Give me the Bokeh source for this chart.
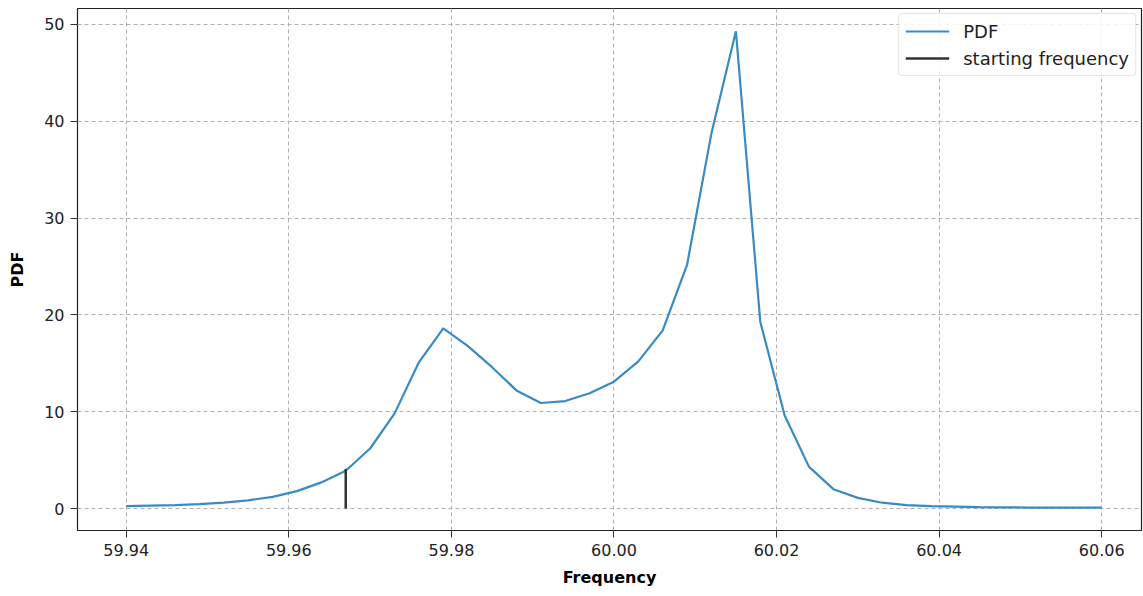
from bokeh.plotting import figure
from bokeh.embed import file_html
from bokeh.resources import INLINE
from bokeh.models import Range1d, FixedTicker, Legend, LegendItem, CustomJSTickFormatter

freq = [59.940, 59.943, 59.946, 59.949, 59.952, 59.955, 59.958, 59.961, 59.964, 59.967,
        59.970, 59.973, 59.976, 59.979, 59.982, 59.985, 59.988, 59.991, 59.994, 59.997,
        60.000, 60.003, 60.006, 60.009, 60.012, 60.015, 60.018, 60.021, 60.024, 60.027,
        60.030, 60.033, 60.036, 60.039, 60.042, 60.045, 60.048, 60.051, 60.054, 60.057, 60.060]
pdf = [0.25, 0.3, 0.35, 0.45, 0.6, 0.85, 1.2, 1.8, 2.7, 3.9,
       6.2, 9.8, 15.1, 18.6, 16.8, 14.6, 12.2, 10.9, 11.1, 11.9,
       13.1, 15.2, 18.4, 25.2, 38.8, 49.3, 19.3, 9.6, 4.3, 2.0,
       1.1, 0.6, 0.35, 0.25, 0.2, 0.15, 0.12, 0.1, 0.1, 0.1, 0.1]
start_freq = [59.967, 59.967]
start_pdf = [0.0, 4.1]
x_ticks = [59.94, 59.96, 59.98, 60.00, 60.02, 60.04, 60.06]
y_ticks = [0, 10, 20, 30, 40, 50]

p = figure(width=1143, height=596, output_backend="svg", toolbar_location=None,
           x_range=Range1d(59.934, 60.0649), y_range=Range1d(-2.27, 51.65),
           min_border_left=77, min_border_top=8, min_border_bottom=66, min_border_right=2)

l1 = p.line(freq, pdf, line_color="#3a8ac4", line_width=2.2)
l2 = p.line(start_freq, start_pdf, line_color="#333333", line_width=2.5)

p.xaxis.ticker = FixedTicker(ticks=x_ticks)
p.yaxis.ticker = FixedTicker(ticks=y_ticks)
p.xaxis.formatter = CustomJSTickFormatter(code="return tick.toFixed(2);")
p.xaxis.axis_label = "Frequency"
p.yaxis.axis_label = "PDF"
for ax in (p.xaxis, p.yaxis):
    ax.axis_label_text_font = "DejaVu Sans"
    ax.axis_label_text_font_style = "bold"
    ax.axis_label_text_font_size = "16px"
    ax.axis_label_text_color = "#000000"
    ax.major_label_text_font = "DejaVu Sans"
    ax.major_label_text_font_size = "16px"
    ax.major_label_text_color = "#222222"
    ax.minor_tick_line_color = None
    ax.major_tick_out = 7
    ax.major_tick_in = 0
    ax.axis_line_color = None
    ax.major_tick_line_color = "#333333"
p.xaxis.major_label_standoff = 6
p.yaxis.major_label_standoff = 6
p.xaxis.axis_label_standoff = 9
p.yaxis.axis_label_standoff = 14

p.outline_line_color = "#222222"
p.outline_line_width = 1.2
p.grid.grid_line_color = "#b0b0b0"
p.grid.grid_line_dash = "4 3"
p.grid.grid_line_width = 1

legend = Legend(items=[LegendItem(label="PDF", renderers=[l1]),
                       LegendItem(label="starting frequency", renderers=[l2])],
                location="top_right")
legend.label_text_font = "DejaVu Sans"
legend.label_text_font_size = "18px"
legend.label_text_color = "#222222"
legend.border_line_color = "#cccccc"
legend.border_radius = 4
legend.margin = 5
legend.padding = 6
legend.spacing = 5
legend.label_height = 22
legend.glyph_height = 22
legend.glyph_width = 44
legend.label_standoff = 14
legend.background_fill_alpha = 0.85
p.add_layout(legend)

open("out.html", "w").write(file_html(p, INLINE))
